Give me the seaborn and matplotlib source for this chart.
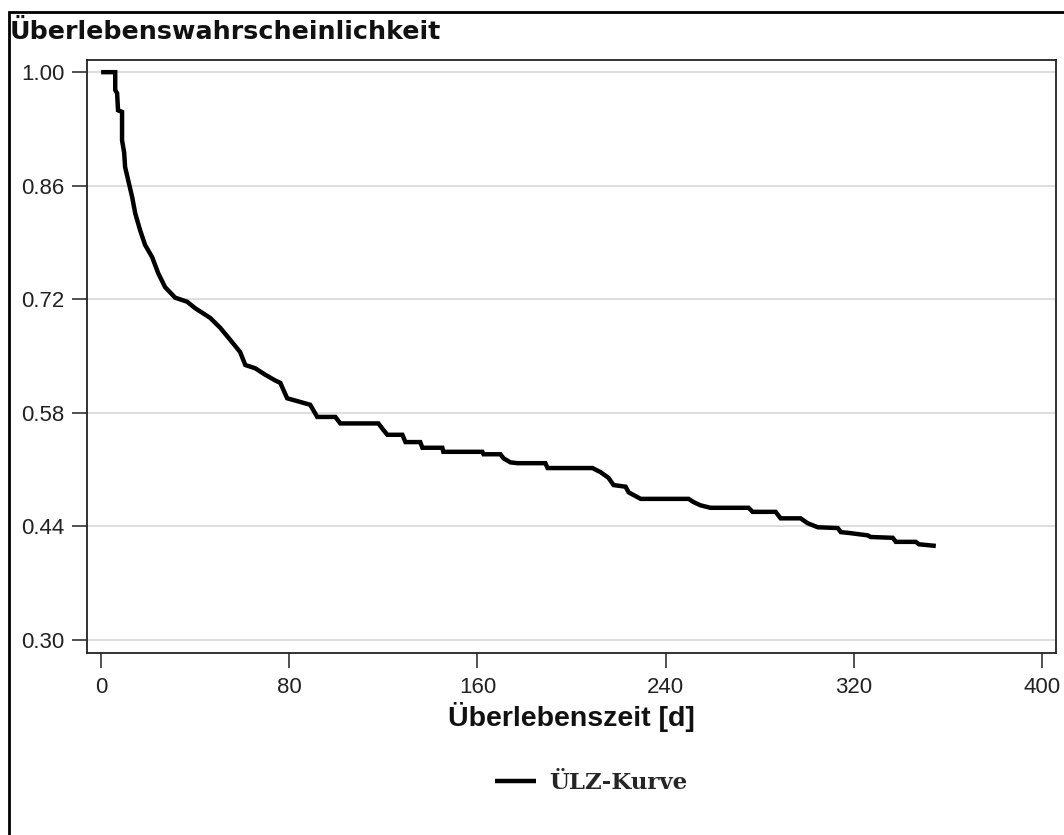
import numpy as np
import pandas as pd
import seaborn as sns
import matplotlib.pyplot as plt
from matplotlib.patches import Rectangle

# Kaplan-Meier curve (days, survival probability)
zeit = [0, 6.0, 6.0, 6.8, 7.2, 8.9, 8.9, 9.8, 10.2, 11.5, 13.2, 14.5, 16.6, 18.7,
        21.7, 24.3, 27.2, 31.5, 36.6, 40.0, 44.3, 46.4, 50.6, 54.9, 59.1, 61.3,
        65.5, 69.8, 74.0, 76.2, 79.1, 88.9, 91.9, 99.6, 101.7, 117.9, 120.0,
        121.7, 128.1, 129.4, 135.7, 136.6, 145.1, 145.5, 162.1, 162.6, 169.8,
        171.1, 174.0, 177.0, 188.9, 189.8, 208.9, 212.3, 215.7, 217.9, 223.0,
        224.3, 229.4, 249.8, 251.9, 254.9, 259.1, 275.3, 277.0, 286.8, 288.9,
        297.4, 300.4, 304.7, 313.2, 314.5, 317.9, 326.0, 327.2, 336.6, 337.9,
        346.4, 347.7, 354.9]
surv = [1.0, 1.0, 0.978, 0.974, 0.953, 0.951, 0.916, 0.901, 0.883, 0.867, 0.846,
        0.826, 0.805, 0.787, 0.772, 0.752, 0.735, 0.722, 0.717, 0.709, 0.701,
        0.697, 0.685, 0.670, 0.655, 0.639, 0.635, 0.627, 0.620, 0.617, 0.598,
        0.590, 0.575, 0.575, 0.567, 0.567, 0.559, 0.553, 0.553, 0.544, 0.544,
        0.537, 0.537, 0.532, 0.532, 0.529, 0.529, 0.524, 0.519, 0.518, 0.518,
        0.512, 0.512, 0.507, 0.500, 0.491, 0.489, 0.482, 0.474, 0.474, 0.470,
        0.466, 0.463, 0.463, 0.458, 0.458, 0.450, 0.450, 0.444, 0.439, 0.438,
        0.433, 0.432, 0.429, 0.427, 0.426, 0.421, 0.421, 0.418, 0.416]

y_ticks = [0.30, 0.44, 0.58, 0.72, 0.86, 1.00]
x_ticks = [0, 80, 160, 240, 320, 400]

df = pd.DataFrame({"zeit": zeit, "surv": surv})

sns.set_theme(style="white")
plt.rcParams['font.family'] = ['Liberation Sans', 'DejaVu Sans']

fig = plt.figure(figsize=(10.64, 8.35), dpi=100)
ax = fig.add_axes([87/1064, 1-653/835, (1056-87)/1064, (653-60)/835])

sns.lineplot(data=df, x="zeit", y="surv", ax=ax, color="black", linewidth=3.2,
             label="ÜLZ-Kurve", legend=False, estimator=None, sort=False,
             solid_capstyle="butt", solid_joinstyle="miter")

ax.set_xlim(-6, 406)
ax.set_ylim(0.284, 1.015)
ax.set_xticks(x_ticks)
ax.set_yticks(y_ticks)
ax.set_xticklabels([str(t) for t in x_ticks])
ax.set_yticklabels(["%.2f" % t for t in y_ticks])
ax.tick_params(axis="both", direction="out", length=11, width=1.1, color="#222222",
               labelsize=16, labelcolor="#222222", bottom=True, left=True)
ax.tick_params(axis="y", pad=5)
ax.tick_params(axis="x", pad=6)
ax.yaxis.grid(True, color="#d8d8d8", linewidth=1.2)
ax.xaxis.grid(False)
for s in ax.spines.values():
    s.set_color("#222222")
    s.set_linewidth(1.3)

ax.set_xlabel("Überlebenszeit [d]", fontsize=20.5, fontweight="bold", labelpad=3,
              color="#111111")
ax.set_ylabel("")

fig.text(10/1064, 1-39/835, "Überlebenswahrscheinlichkeit", fontsize=18.3,
         fontweight="bold", ha="left", va="baseline", color="#111111",
         family="DejaVu Sans")

handles, labels = ax.get_legend_handles_labels()
fig.legend(handles, labels, loc="center", bbox_to_anchor=(591/1064, 1-783/835),
           frameon=False, handlelength=1.8, handletextpad=0.55,
           prop={"family": "DejaVu Serif", "size": 16.5, "weight": "bold"})

# outer frame
fig.patches.append(Rectangle((9/1064, -0.01), 1.0, 1-12/835 + 0.01,
                             transform=fig.transFigure, fill=False,
                             edgecolor="black", linewidth=2))

fig.savefig("out.png", dpi=100)
